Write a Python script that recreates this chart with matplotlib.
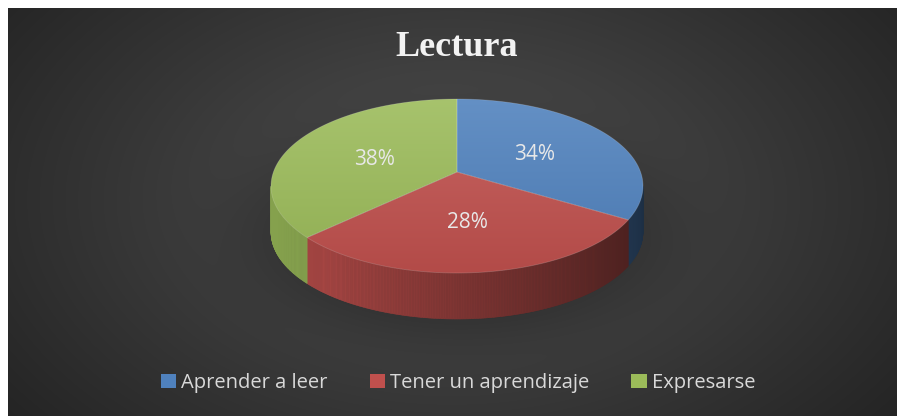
import numpy as np
import matplotlib.pyplot as plt
from matplotlib.patches import Polygon, Patch
from matplotlib.colors import to_rgb

# data
categories = ['Aprender a leer', 'Tener un aprendizaje', 'Expresarse']
values = [34, 28, 38]
colors = ['#4f81bd', '#c0504d', '#9bbb59']
title = 'Lectura'

W, H = 897, 416
fig = plt.figure(figsize=(W / 100, H / 100), dpi=100)
ax = fig.add_axes([0, 0, 1, 1])
ax.set_xlim(0, W)
ax.set_ylim(H, 0)
ax.axis('off')

# dark radial background with a soft shadow under the pie
yy, xx = np.mgrid[8:H, 8:W] + 0.5
d = np.sqrt(((xx - 452) / 520) ** 2 + ((yy - 200) / 330) ** 2)
bg = 0.315 - 0.16 * d
sh = np.exp(-((((xx - 458) / 205) ** 2 + ((yy - 228) / 108) ** 2) ** 2))
bg = bg * (1 - 0.35 * sh)
rgb = np.dstack([bg, bg, bg])
ax.imshow(rgb, extent=[8, W, H, 8], interpolation='bilinear', zorder=0)

# pie geometry (pixels), tilted with a bit of perspective
cx, cy, rx, ry, depth = 457, 186, 186, 87, 46
apex = np.array([457, 172])


def warp(deg):
    # front slices look wider, back ones narrower
    return deg - 10.5 * np.sin(np.radians(2 * deg))


def pt(th, dy=0):
    return np.array([cx + rx * np.cos(th), cy + ry * np.sin(th) + dy])


def shade(th):
    f = np.clip(th / (0.75 * np.pi), 0, 1)
    return 0.36 + 0.5 * f ** 1.3


total = sum(values)
bounds = [-90.0]
for v in values:
    bounds.append(bounds[-1] + 360.0 * v / total)
wb = [warp(b) for b in bounds]

# side walls (front half only)
for i, c in enumerate(colors):
    a0 = np.radians(max(wb[i], 0))
    a1 = np.radians(min(wb[i + 1], 180))
    if a1 <= a0:
        continue
    base = np.array(to_rgb(c))
    ths = np.linspace(a0, a1, max(int(np.degrees(a1 - a0) * 2), 2))
    for t0, t1 in zip(ths[:-1], ths[1:]):
        col = np.clip(base * shade((t0 + t1) / 2), 0, 1)
        quad = [pt(t0), pt(t1), pt(t1, depth), pt(t0, depth)]
        ax.add_patch(Polygon(quad, closed=True, facecolor=col,
                             edgecolor=col, lw=0.4, zorder=2))

# top faces with a soft vertical gradient
ys = np.linspace(0, 1, 100)
for i, c in enumerate(colors):
    a0, a1 = np.radians(wb[i]), np.radians(wb[i + 1])
    ths = np.linspace(a0, a1, 200)
    verts = [apex] + [pt(t) for t in ths]
    poly = Polygon(verts, closed=True, facecolor='none', edgecolor='none', zorder=3)
    ax.add_patch(poly)
    base = np.array(to_rgb(c))
    light = base + (1 - base) * 0.12
    dark = base * 0.93
    grad = light[None, :] * (1 - ys[:, None]) + dark[None, :] * ys[:, None]
    im = ax.imshow(grad[:, None, :], extent=[cx - rx - 3, cx + rx + 3, cy + ry + 3, cy - ry - 3],
                   aspect='auto', interpolation='bilinear', zorder=3)
    im.set_clip_path(poly)
    ax.add_patch(Polygon(verts, closed=True, facecolor='none',
                         edgecolor=(1, 1, 1, 0.18), lw=0.6, zorder=4))

# percentage labels
for i, v in enumerate(values):
    mid = np.radians((wb[i] + wb[i + 1]) / 2)
    p = apex + 0.5 * (pt(mid) - apex)
    ax.text(p[0], p[1], f'{round(100 * v / total)}%', ha='center', va='center',
            fontsize=15, color='#e8e8e8', family='Open Sans', zorder=5)

ax.text(457, 48, title, ha='center', va='center', fontsize=26, fontweight='bold',
        color='#f2f2f2', family='Liberation Serif', zorder=5)

handles = [Patch(facecolor=c, edgecolor='none') for c in colors]
fig.legend(handles, categories, loc='center', bbox_to_anchor=(458 / W, 1 - 383 / H),
           ncol=3, frameon=False, labelcolor='#d9d9d9',
           prop={'family': 'Open Sans', 'size': 14.5},
           handlelength=0.75, handleheight=0.75, handletextpad=0.25, columnspacing=2.1)

fig.savefig('out.png', dpi=100, facecolor='white')
